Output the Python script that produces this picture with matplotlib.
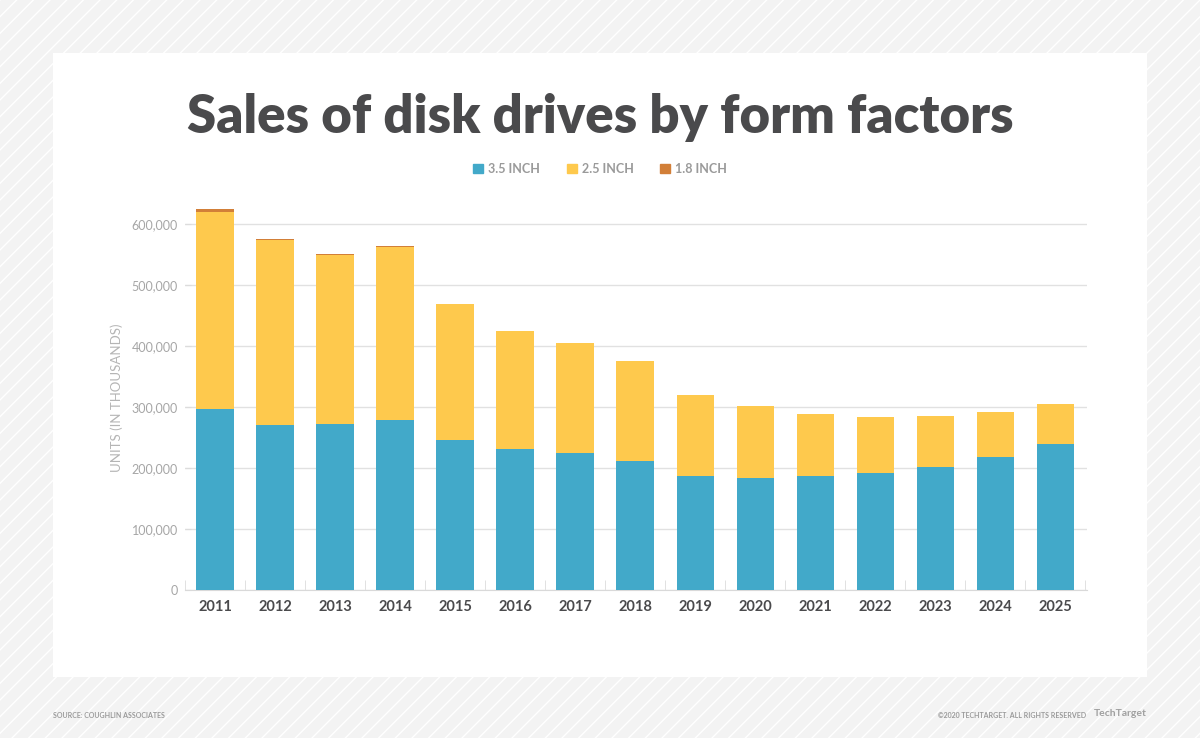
import matplotlib
matplotlib.use('Agg')
import matplotlib.pyplot as plt
from matplotlib.patches import Rectangle, Patch
from matplotlib.ticker import FuncFormatter, MultipleLocator
import numpy as np

plt.rcParams['font.family'] = ['Lato', 'DejaVu Sans']

years = ['2011', '2012', '2013', '2014', '2015', '2016', '2017', '2018',
         '2019', '2020', '2021', '2022', '2023', '2024', '2025']
# units in thousands
inch35 = [297000, 270500, 272000, 278500, 246000, 231000, 224500, 211500,
          187000, 183500, 187000, 192000, 201500, 218000, 239000]
inch25 = [323000, 303000, 277000, 284000, 223000, 194000, 180500, 164000,
          133000, 118000, 101500, 91500, 83500, 74000, 66000]
inch18 = [4500, 3000, 2500, 1500, 0, 0, 0, 0, 0, 0, 0, 0, 0, 0, 0]

blue = '#42a9c9'
yellow = '#fec94d'
orange = '#d27f38'
dark = '#4a4a4c'
grey = '#a6a6a6'

fig = plt.figure(figsize=(12, 7.38), dpi=100)
fig.patch.set_facecolor('#f3f3f3')

# striped background + white panel
bg = Rectangle((0, 0), 1, 1, transform=fig.transFigure, facecolor='#f3f3f3',
               edgecolor='white', hatch='//', linewidth=0, zorder=-3)
fig.patches.append(bg)
panel = Rectangle((53 / 1200, 61 / 738), 1094 / 1200, 624 / 738,
                  transform=fig.transFigure, facecolor='white',
                  edgecolor='none', zorder=-2)
fig.patches.append(panel)

ax = fig.add_axes([185 / 1200, 148 / 738, 902 / 1200, 384 / 738])
ax.set_facecolor('none')
x = np.arange(len(years))
w = 0.62
ax.bar(x, inch35, w, color=blue, label='3.5 INCH', zorder=3)
ax.bar(x, inch25, w, bottom=inch35, color=yellow, label='2.5 INCH', zorder=3)
bot = [a + b for a, b in zip(inch35, inch25)]
ax.bar(x, inch18, w, bottom=bot, color=orange, label='1.8 INCH', zorder=3)

ax.set_xlim(-0.5, 14.53)
ax.set_ylim(0, 630000)
ax.yaxis.set_major_locator(MultipleLocator(100000))
ax.yaxis.set_major_formatter(FuncFormatter(lambda v, p: f'{int(v):,}'))
ax.grid(axis='y', color='#e1e1e1', linewidth=1, zorder=0)
ax.set_axisbelow(True)
for s in ['top', 'right', 'left']:
    ax.spines[s].set_visible(False)
ax.spines['bottom'].set_color('#d9d9d9')
ax.set_xticks(x)
ax.set_xticklabels(years)
ax.set_xticks(np.arange(-0.5, 15, 1), minor=True)
ax.tick_params(axis='x', which='major', length=0, pad=7, labelsize=10.5,
               labelcolor=dark)
ax.tick_params(axis='x', which='minor', direction='in', length=7,
               color='#dcdcdc')
for t in ax.get_xticklabels():
    t.set_fontweight('bold')
ax.tick_params(axis='y', direction='in', length=4, color='#dcdcdc',
               labelsize=9, labelcolor=grey, pad=5)
ax.set_ylabel('UNITS (IN THOUSANDS)', color='#b5b5b5', fontsize=9.5,
              labelpad=6)

title = fig.text(0.5, (738 - 133) / 738, 'Sales of disk drives by form factors',
                 ha='center', va='baseline', fontsize=38,
                 fontweight='heavy', color=dark)
# fit title to the reference width (~825 px)
fig.canvas.draw()
tw = title.get_window_extent().width
title.set_fontsize(38 * 825 / tw)

handles = [Patch(color=blue, label='3.5 INCH'),
           Patch(color=yellow, label='2.5 INCH'),
           Patch(color=orange, label='1.8 INCH')]
leg = fig.legend(handles=handles, loc='center', ncol=3,
                 bbox_to_anchor=(600 / 1200, (738 - 169) / 738),
                 frameon=False, handlelength=0.8, handleheight=0.8,
                 handletextpad=0.4, columnspacing=2.1,
                 prop={'size': 9, 'weight': 'bold'})
for t in leg.get_texts():
    t.set_color('#9a9a9a')

fig.text(53 / 1200, 23 / 738, 'SOURCE: COUGHLIN ASSOCIATES', fontsize=5,
         fontweight='bold', color='#9a9a9a', va='center')
fig.text(1086 / 1200, 23 / 738, '\u00a92020 TECHTARGET. ALL RIGHTS RESERVED',
         fontsize=5, fontweight='bold', color='#9a9a9a', va='center',
         ha='right')
fig.text(1147 / 1200, 24 / 738, 'TechTarget', fontsize=7.5,
         fontweight='bold', color='#a0a0a0', va='center', ha='right')

fig.savefig('out.png', dpi=100, facecolor=fig.get_facecolor())
